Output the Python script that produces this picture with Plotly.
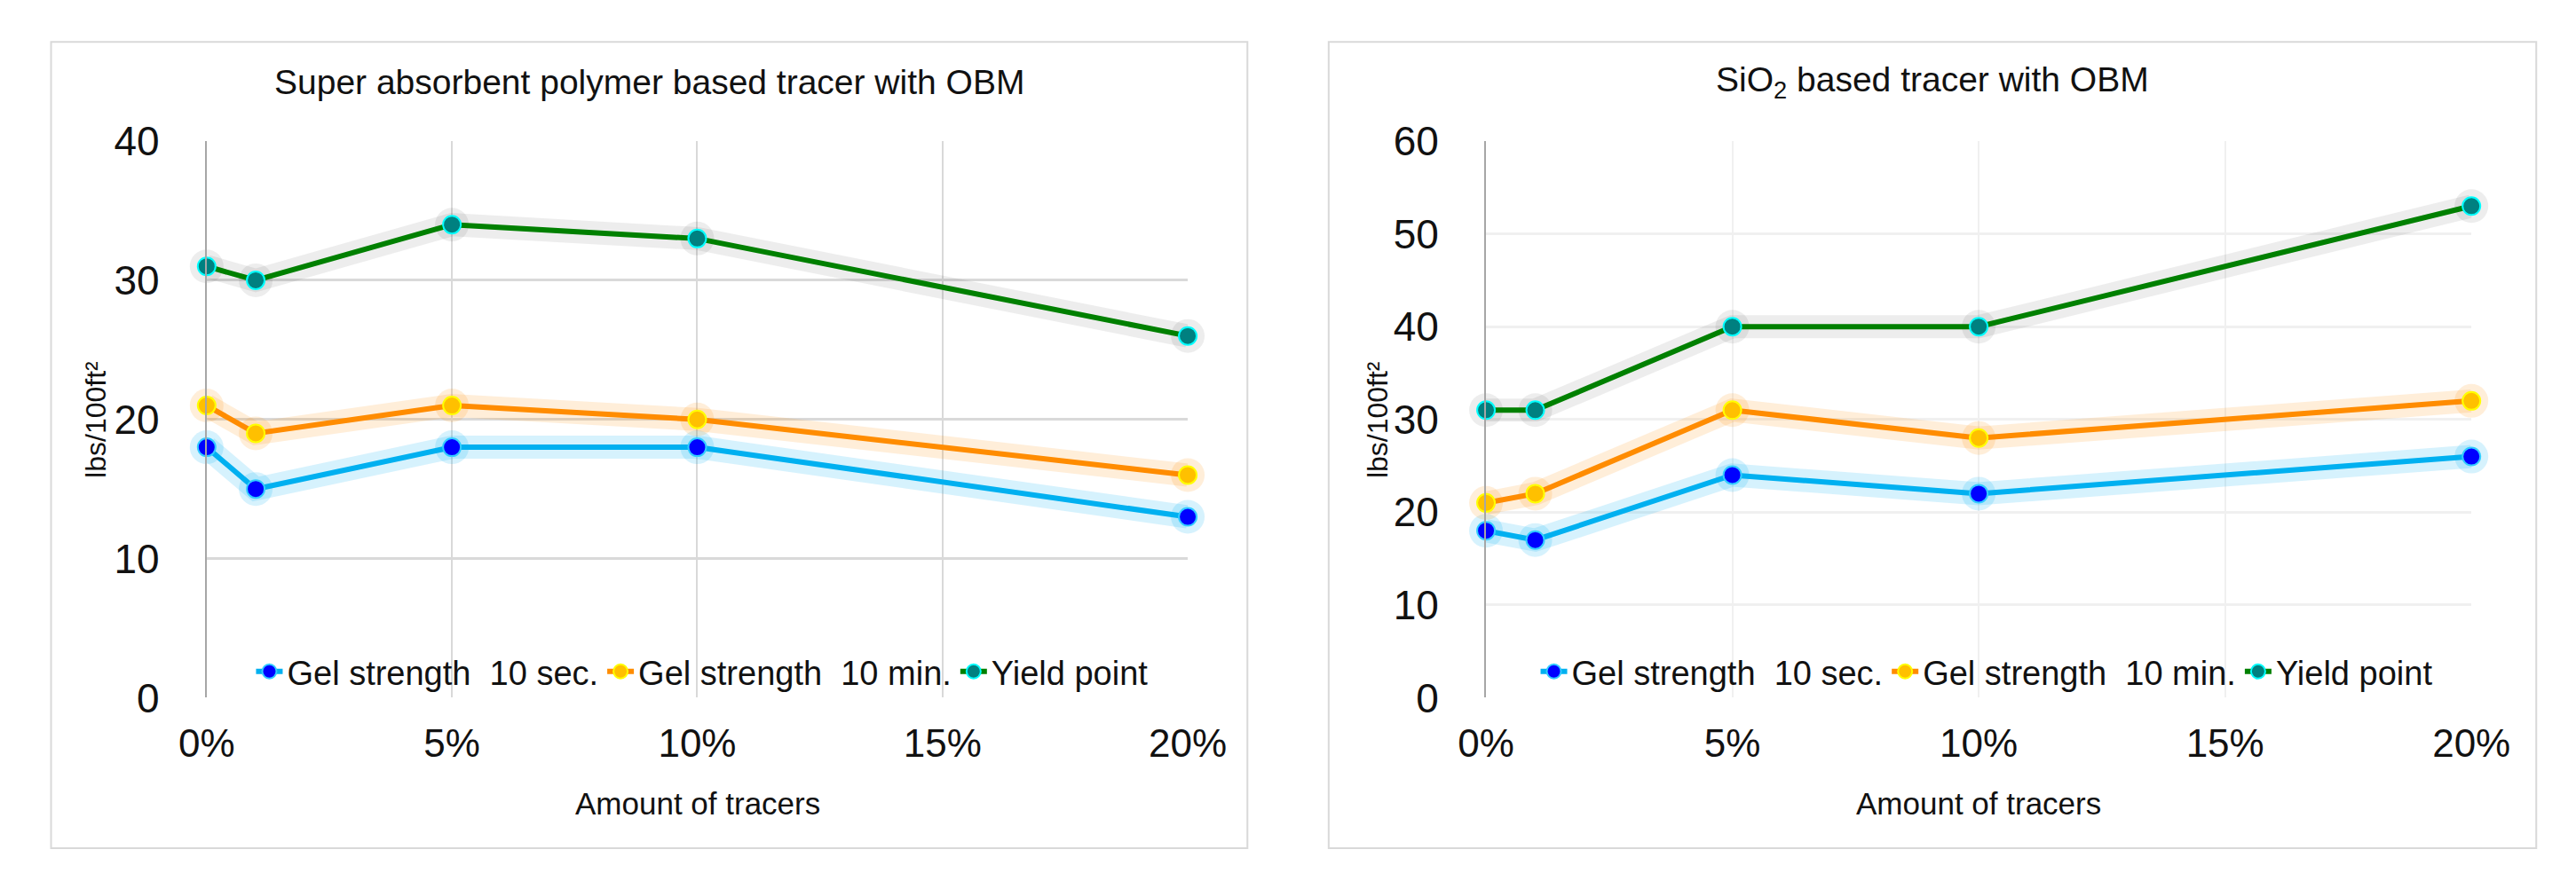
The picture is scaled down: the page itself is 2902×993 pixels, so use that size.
import plotly.graph_objects as go

W, H = 2902, 993

# ---------------- data ----------------
x_vals = [0.0, 0.01, 0.05, 0.10, 0.20]
x_tickvals = [0.0, 0.05, 0.10, 0.15, 0.20]
x_ticktext = ["0%", "5%", "10%", "15%", "20%"]

left_title = "Super absorbent polymer based tracer with OBM"
right_title = "SiO<sub>2</sub> based tracer with OBM"
series_names = ["Gel strength  10 sec.", "Gel strength  10 min.", "Yield point"]

left_gel10s = [18, 15, 18, 18, 13]
left_gel10m = [21, 19, 21, 20, 16]
left_yp = [31, 30, 34, 33, 26]

right_gel10s = [18, 17, 24, 22, 26]
right_gel10m = [21, 22, 31, 28, 32]
right_yp = [31, 31, 40, 40, 53]

left_yticks = [0, 10, 20, 30, 40]
right_yticks = [0, 10, 20, 30, 40, 50, 60]

# ---------------- styles ----------------
FONT = "Liberation Sans Narrow, Liberation Sans, Arial Narrow, sans-serif"
styles = [
    dict(line="#00B0F0", mk="#0000FF", mkl="#33CCFF", glow="rgba(0,176,240,0.16)"),
    dict(line="#FF8C00", mk="#FFC000", mkl="#FFFF00", glow="rgba(255,140,0,0.15)"),
    dict(line="#008000", mk="#008080", mkl="#00FFFF", glow="rgba(0,0,0,0.07)"),
]


def px(x):
    return x / W


def py(y):
    return 1 - y / H


fig = go.Figure()

panels = [
    dict(xa="x", ya="y", legend="legend", data=[left_gel10s, left_gel10m, left_yp]),
    dict(xa="x2", ya="y2", legend="legend2", data=[right_gel10s, right_gel10m, right_yp]),
]

for p in panels:
    for vals, st in zip(p["data"], styles):
        fig.add_trace(go.Scatter(
            x=x_vals, y=vals, xaxis=p["xa"], yaxis=p["ya"], mode="lines+markers",
            line=dict(color=st["glow"], width=26), marker=dict(size=38, color=st["glow"]),
            showlegend=False, hoverinfo="skip", cliponaxis=False,
        ))
    for vals, st, name in zip(p["data"], styles, series_names):
        fig.add_trace(go.Scatter(
            x=x_vals, y=vals, xaxis=p["xa"], yaxis=p["ya"], mode="lines+markers",
            name=name, legend=p["legend"],
            line=dict(color=st["line"], width=6),
            marker=dict(size=20, color=st["mk"], line=dict(color=st["mkl"], width=2)),
            cliponaxis=False,
        ))

xdom_l = [px(198), px(1333)]
xdom_r = [px(1678), px(2818)]
ydom = [py(794), py(132)]

common_x = dict(
    range=[0, 0.2], tickvals=x_tickvals, ticktext=x_ticktext,
    showgrid=True, gridwidth=2, zeroline=False, showline=False,
    tickfont=dict(family=FONT, size=44, color="#111111"), ticks="",
    ticklabelstandoff=22, fixedrange=True,
)
common_y = dict(
    showgrid=True, gridwidth=3, zeroline=False, showline=True, linecolor="#A6A6A6", linewidth=2,
    tickfont=dict(family=FONT, size=46, color="#111111"), ticks="",
    ticklabelstandoff=42, fixedrange=True,
)

fig.update_layout(
    width=W, height=H, margin=dict(l=0, r=0, t=0, b=0),
    paper_bgcolor="white", plot_bgcolor="white",
    xaxis=dict(domain=xdom_l, anchor="y", gridcolor="#D9D9D9", **common_x),
    yaxis=dict(domain=ydom, anchor="x", range=[0, 40], tickvals=left_yticks,
               gridcolor="#D9D9D9", **common_y),
    xaxis2=dict(domain=xdom_r, anchor="y2", gridcolor="#F0F0F0", **common_x),
    yaxis2=dict(domain=ydom, anchor="x2", range=[0, 60], tickvals=right_yticks,
                gridcolor="#F0F0F0", **common_y),
    legend=dict(x=px(250), y=py(763), xanchor="left", yanchor="middle", orientation="h",
                font=dict(family=FONT, size=38, color="#111111"), bgcolor="rgba(0,0,0,0)",
                itemwidth=30, tracegroupgap=0, traceorder="normal"),
    legend2=dict(x=px(1736), y=py(763), xanchor="left", yanchor="middle", orientation="h",
                 font=dict(family=FONT, size=38, color="#111111"), bgcolor="rgba(0,0,0,0)",
                 itemwidth=30, tracegroupgap=0, traceorder="normal"),
    showlegend=True,
)

# panel borders
for x0, x1 in [(18, 1402), (1496, 2893)]:
    fig.add_shape(type="rect", xref="paper", yref="paper", x0=px(x0), x1=px(x1),
                  y0=py(973), y1=py(14), line=dict(color="#D9D9D9", width=2), layer="below")

annotations = [
    dict(text=left_title, x=px(710), y=py(62), size=39),
    dict(text=right_title, x=px(2194), y=py(62), size=39),
    dict(text="Amount of tracers", x=px(766), y=py(920), size=35),
    dict(text="Amount of tracers", x=px(2248), y=py(920), size=35),
]
for a in annotations:
    fig.add_annotation(text=a["text"], x=a["x"], y=a["y"], xref="paper", yref="paper",
                       showarrow=False, xanchor="center", yanchor="middle",
                       font=dict(family=FONT, size=a["size"], color="#111111"))

for xc in [70, 1552]:
    fig.add_annotation(text="lbs/100ft²", x=px(xc), y=py(463), xref="paper", yref="paper",
                       showarrow=False, textangle=-90, xanchor="center", yanchor="middle",
                       font=dict(family=FONT, size=32, color="#111111"))

fig.write_html("out.html")
